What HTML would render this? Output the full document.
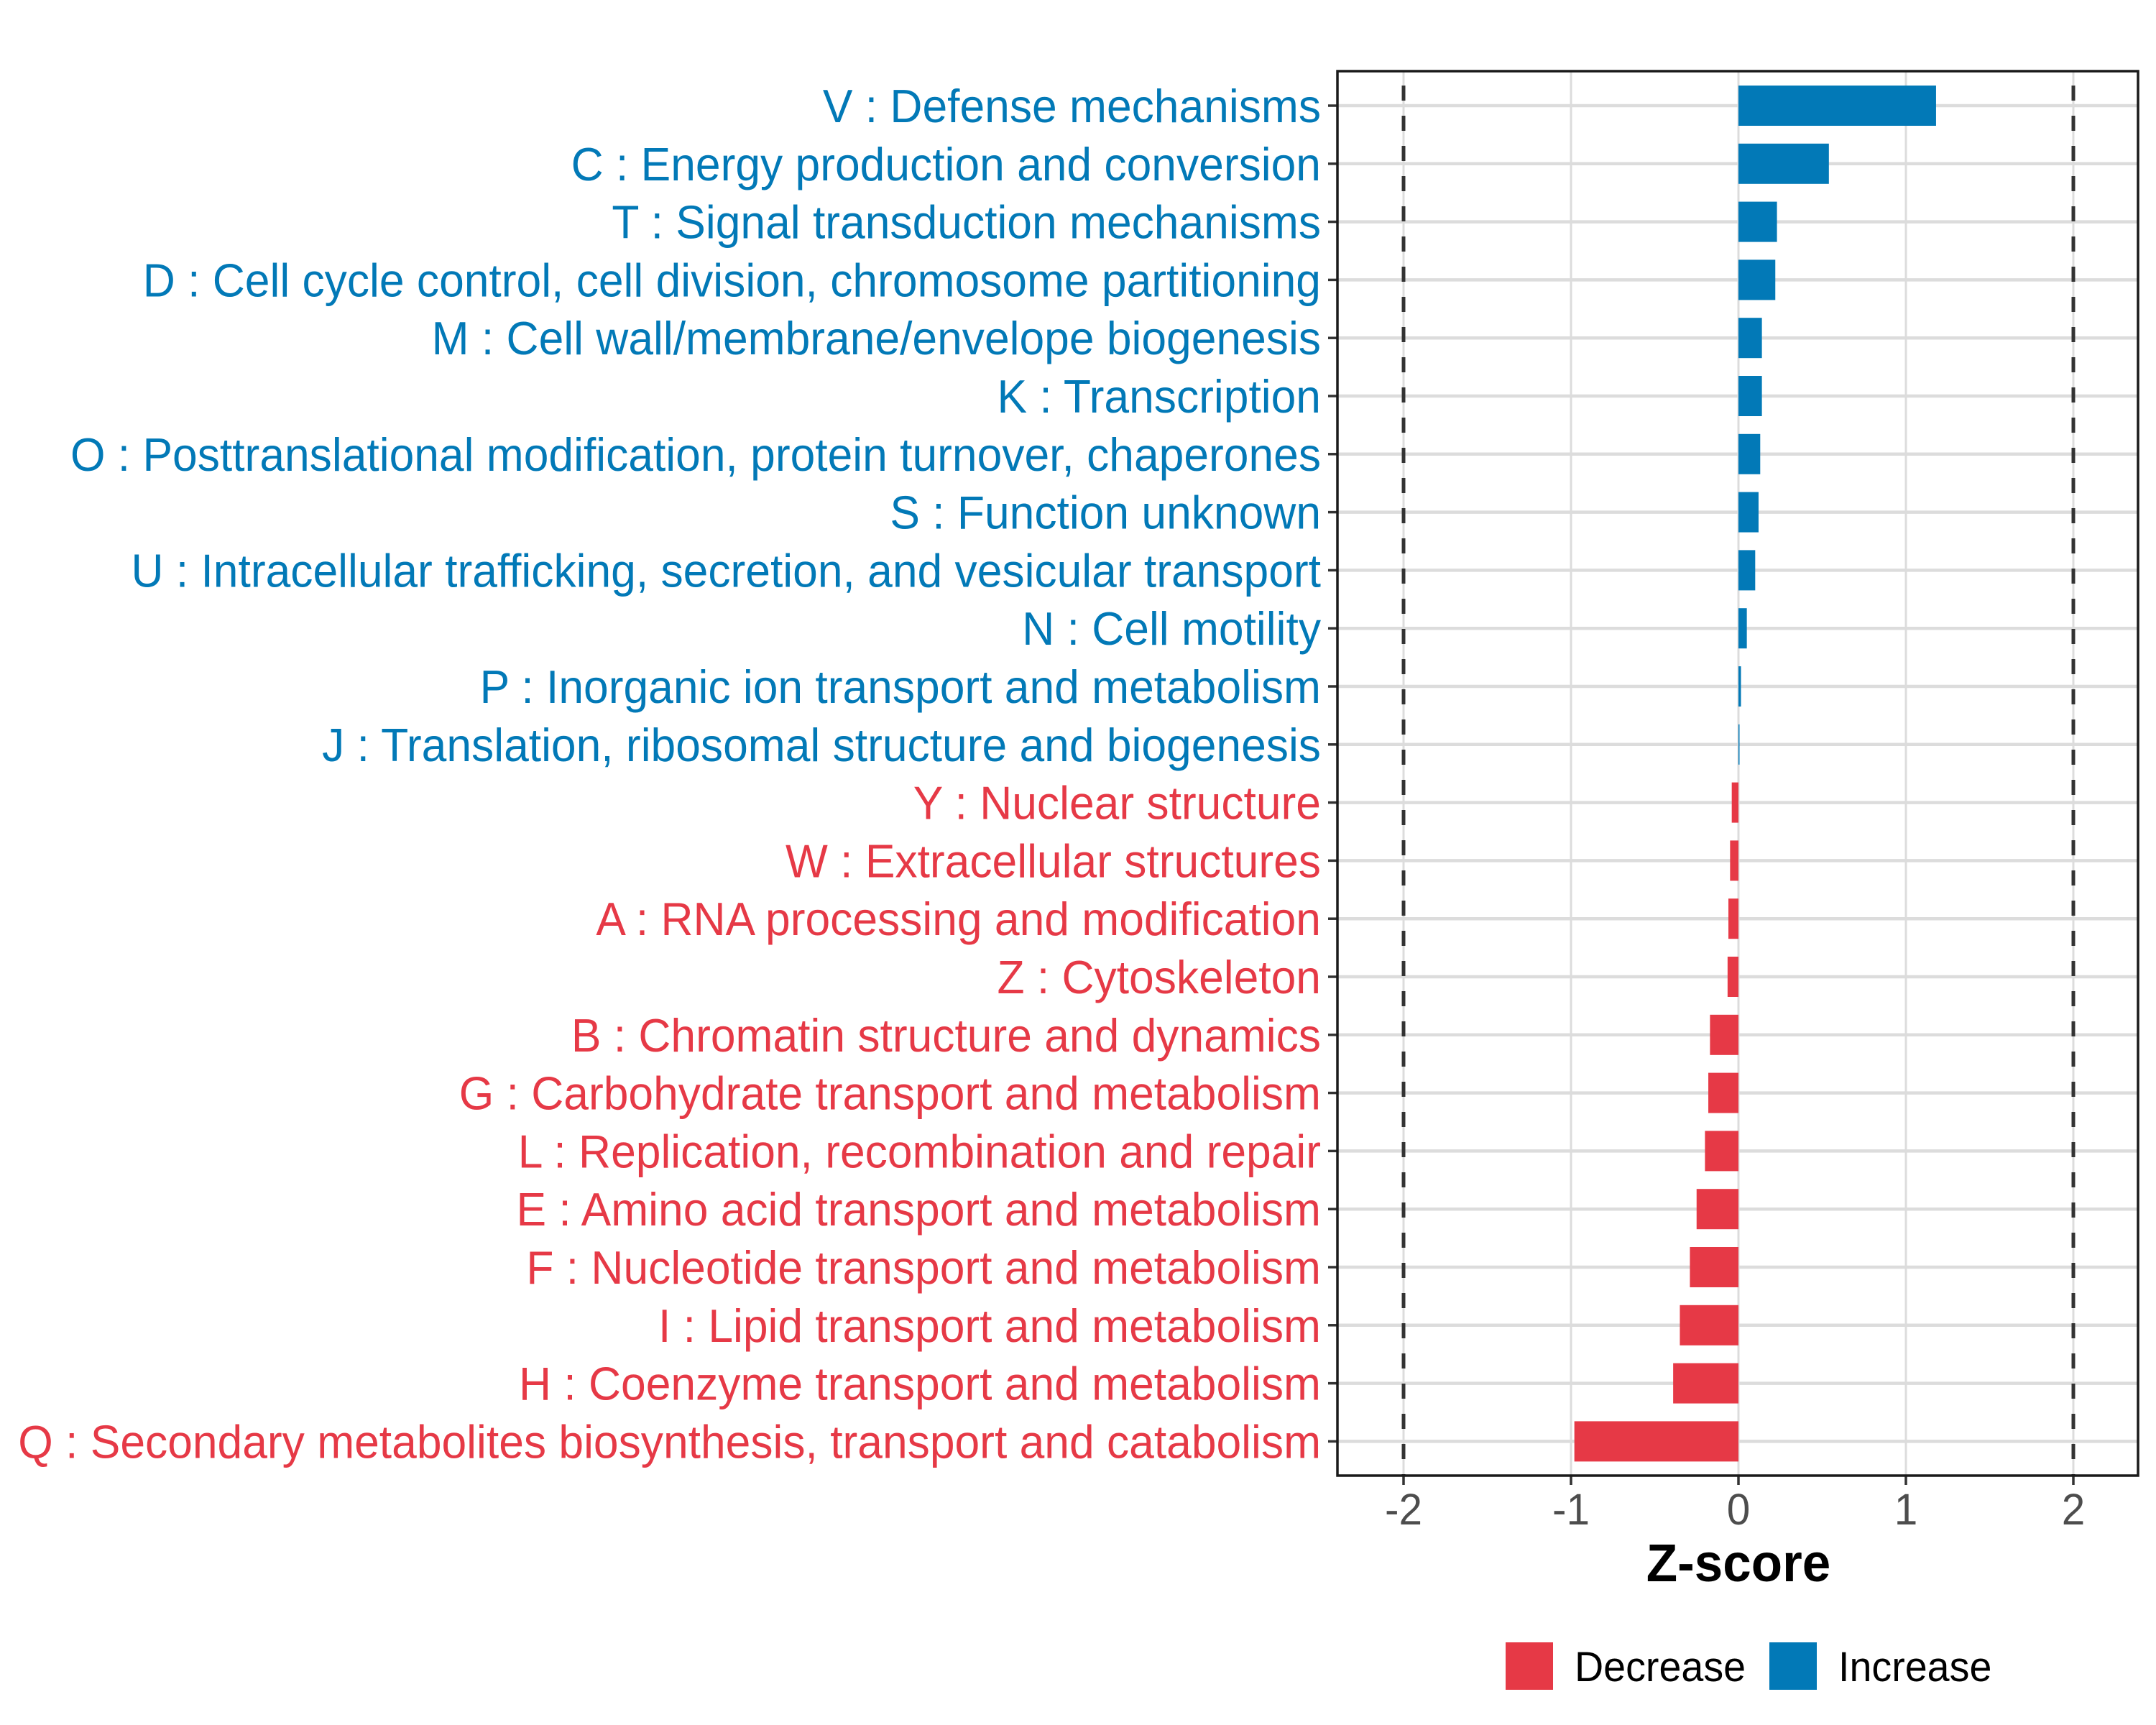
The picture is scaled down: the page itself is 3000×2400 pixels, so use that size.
<!DOCTYPE html>
<html><head><meta charset="utf-8"><style>
html,body{margin:0;padding:0;background:#fff;}
svg{display:block;font-family:"Liberation Sans",Arial,sans-serif;}
</style></head><body>
<svg id="chart" width="3000" height="2400" viewBox="0 0 3000 2400" xmlns="http://www.w3.org/2000/svg">
<rect x="0" y="0" width="3000" height="2400" fill="#fff"/>
<g id="grid"></g>
<g id="bars"></g>
<g id="ylabels"></g>
<g id="xaxis"></g>
<rect x="1861" y="99" width="1114" height="1954" fill="none" stroke="#1a1a1a" stroke-width="3.5"/>
<text x="2419" y="2200" text-anchor="middle" font-weight="bold" font-size="74" fill="#000" id="xtitle">Z-score</text>
<g>
<rect x="2095" y="2285" width="66" height="66" fill="#E63946"/>
<text x="2191" y="2339" font-size="58" fill="#000" class="sq">Decrease</text>
<rect x="2462" y="2285" width="66" height="66" fill="#0279B7"/>
<text x="2558" y="2339" font-size="58" fill="#000" class="sq">Increase</text>
</g>
</svg>
<script>
const categories = ["V : Defense mechanisms","C : Energy production and conversion","T : Signal transduction mechanisms","D : Cell cycle control, cell division, chromosome partitioning","M : Cell wall/membrane/envelope biogenesis","K : Transcription","O : Posttranslational modification, protein turnover, chaperones","S : Function unknown","U : Intracellular trafficking, secretion, and vesicular transport","N : Cell motility","P : Inorganic ion transport and metabolism","J : Translation, ribosomal structure and biogenesis","Y : Nuclear structure","W : Extracellular structures","A : RNA processing and modification","Z : Cytoskeleton","B : Chromatin structure and dynamics","G : Carbohydrate transport and metabolism","L : Replication, recombination and repair","E : Amino acid transport and metabolism","F : Nucleotide transport and metabolism","I : Lipid transport and metabolism","H : Coenzyme transport and metabolism","Q : Secondary metabolites biosynthesis, transport and catabolism"];
const zscores = [1.18,0.54,0.23,0.22,0.14,0.14,0.13,0.12,0.10,0.05,0.015,0.005,-0.04,-0.05,-0.06,-0.065,-0.17,-0.18,-0.2,-0.25,-0.29,-0.35,-0.39,-0.98];
const xTicks = [-2,-1,0,1,2];
const xTickLabels = ["-2","-1","0","1","2"];
const thresholds = [-2,2];

const NS="http://www.w3.org/2000/svg";
const panel={left:1861,right:2975,top:99,bottom:2053};
const xScale=v=>2419+v*233;
const yScale=i=>147+i*80.8;
const BLUE="#0279B7", RED="#E63946";
function mk(tag,attrs,parent){const e=document.createElementNS(NS,tag);for(const k in attrs)e.setAttribute(k,attrs[k]);parent.appendChild(e);return e;}
const grid=document.getElementById('grid'),bars=document.getElementById('bars'),yl=document.getElementById('ylabels'),xa=document.getElementById('xaxis');

xTicks.forEach((t,i)=>{
  const g=mk('line',{x1:xScale(t),x2:xScale(t),y1:panel.top,y2:panel.bottom,stroke:'#dcdcdc','stroke-width':3},grid);
  
  
  const tk=mk('line',{x1:xScale(t),x2:xScale(t),y1:panel.bottom,y2:panel.bottom+13,stroke:'#333','stroke-width':3.5},xa);
  
  
  const tl=mk('text',{x:xScale(t),y:2121,'text-anchor':'middle','font-size':61,fill:'#4d4d4d',class:'sq'},xa);
  tl.textContent=xTickLabels[i];
  
  
});
categories.forEach((c,i)=>{
  const y=yScale(i);
  const g=mk('line',{x1:panel.left,x2:panel.right,y1:y,y2:y,stroke:'#dcdcdc','stroke-width':4.5},grid);
  
  
});
thresholds.forEach(t=>{
  const d=mk('line',{x1:xScale(t),x2:xScale(t),y1:panel.top,y2:panel.bottom,stroke:'#333','stroke-width':5,'stroke-dasharray':'21 21','stroke-dashoffset':'-20'},grid);
  
  
});
categories.forEach((c,i)=>{
  const y=yScale(i),v=zscores[i],col=v>=0?BLUE:RED;
  const x0=xScale(Math.min(0,v)),w=Math.max(Math.abs(xScale(v)-xScale(0)),1.5);
  const b=mk('rect',{x:x0,y:y-28,width:w,height:56,fill:col},bars);
  
  
  const tk=mk('line',{x1:panel.left-13,x2:panel.left,y1:y,y2:y,stroke:'#333','stroke-width':3.5},yl);
  
  
  const t=mk('text',{x:1838,y:y+23,'text-anchor':'end','font-size':65,fill:col,class:'lab'},yl);
  t.textContent=c;
  
  
});
const labs=[...document.querySelectorAll('.lab')];
const q=labs[labs.length-1];
const sx=Math.min(1,1813/q.getComputedTextLength());
labs.forEach(t=>{const x=+t.getAttribute('x');t.setAttribute('transform',`translate(${x},0) scale(${sx},1) translate(${-x},0)`);});
document.querySelectorAll('.sq,#xtitle').forEach(t=>{const x=+t.getAttribute('x');t.setAttribute('transform',`translate(${x},0) scale(${sx},1) translate(${-x},0)`);});
</script>
</body></html>
